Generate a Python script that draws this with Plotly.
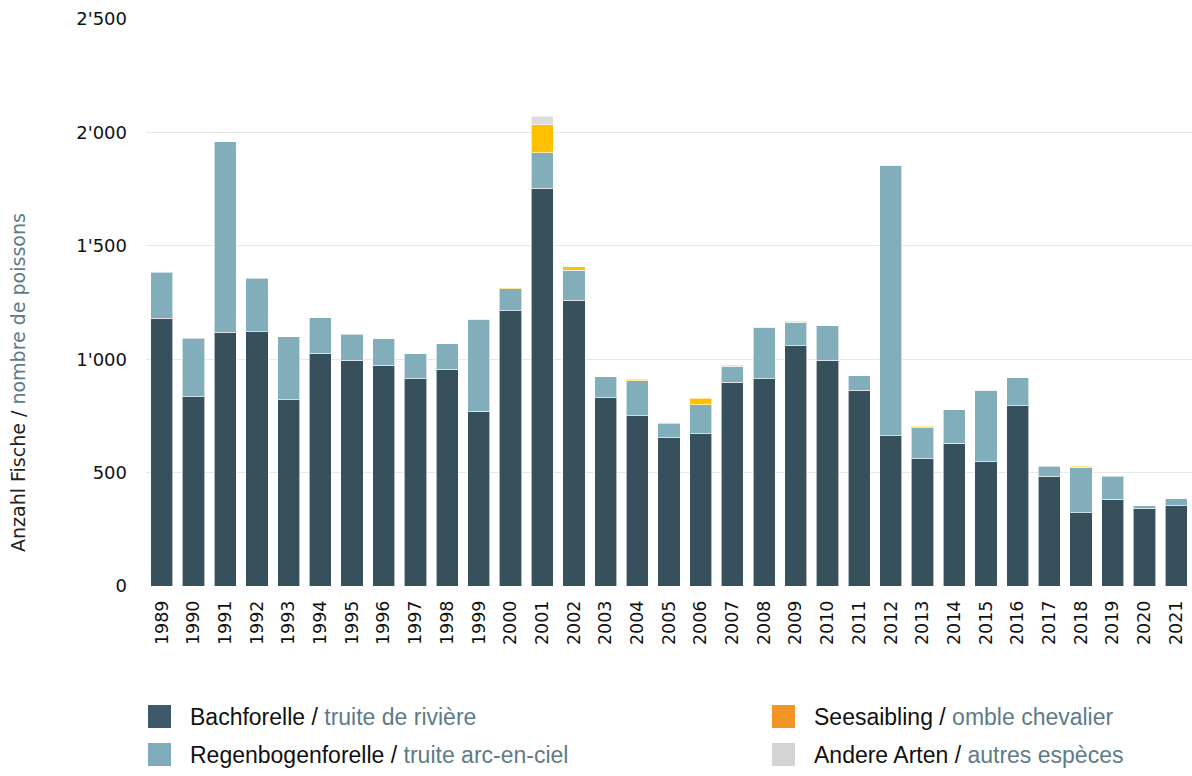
import plotly.graph_objects as go

years = [str(y) for y in range(1989, 2022)]
bachforelle = [1181, 835, 1118, 1121, 822, 1027, 995, 974, 913, 955, 770, 1214, 1753, 1261, 830, 751, 654,
               672, 899, 913, 1060, 995, 863, 663, 560, 629, 547, 795, 483, 322, 382, 342, 353]
regenbogen = [203, 257, 841, 236, 276, 155, 116, 116, 110, 113, 405, 97, 158, 132, 93, 154, 63,
              128, 71, 226, 102, 153, 64, 1189, 138, 148, 314, 124, 46, 201, 103, 11, 31]
seesaibling = [0, 0, 0, 0, 0, 0, 0, 0, 0, 0, 0, 5, 123, 15, 0, 6, 0,
               27, 4, 0, 5, 0, 0, 0, 7, 0, 0, 0, 0, 4, 0, 0, 0]
andere = [0, 0, 0, 0, 0, 0, 0, 0, 0, 0, 3, 0, 38, 0, 0, 0, 0,
          0, 0, 4, 0, 0, 0, 3, 0, 0, 3, 0, 0, 0, 0, 0, 0]

series = [
    ("Bachforelle", "truite de rivière", bachforelle, "#36515C", "#3D5A68"),
    ("Regenbogenforelle", "truite arc-en-ciel", regenbogen, "#82AEBB", "#7FABBB"),
    ("Seesaibling", "omble chevalier", seesaibling, "#FFC000", "#F39426"),
    ("Andere Arten", "autres espèces", andere, "#DCDCDC", "#D3D4D6"),
]

fig = go.Figure()
for de, fr, vals, col, _ in series:
    fig.add_trace(go.Bar(
        x=years, y=[v if v else None for v in vals], name=de,
        marker=dict(color=col, line=dict(color="rgba(255,255,255,0.6)", width=1)),
    ))

# pixel helpers for the hand-made legend (plot area: x 146..1192, y 19..586)
def px(x):
    return (x - 146) / 1046

def py(y):
    return (586 - y) / 567

grey = "#5E7B88"
legend_pos = [(148, 717), (148, 755), (772, 717), (772, 755)]
for (de, fr, vals, col, lcol), (lx, ly) in zip(series, legend_pos):
    fig.add_shape(type="rect", xref="paper", yref="paper",
                  x0=px(lx), x1=px(lx + 23), y0=py(ly - 12), y1=py(ly + 11),
                  fillcolor=lcol, line=dict(width=0))
    fig.add_annotation(xref="paper", yref="paper", x=px(lx + 40), y=py(ly),
                       xanchor="left", yanchor="middle", showarrow=False,
                       text=f"<span style='color:#111'>{de} /</span> <span style='color:{grey}'>{fr}</span>",
                       font=dict(family="Liberation Sans", size=23))

fig.add_annotation(xref="paper", yref="paper", x=px(18), y=py(383),
                   xanchor="center", yanchor="middle", showarrow=False, textangle=-90,
                   text=f"<span style='color:#222'>Anzahl Fische /</span> <span style='color:{grey}'>nombre de poissons</span>",
                   font=dict(family="DejaVu Sans", size=19))

fig.update_layout(
    barmode="stack", bargap=0.3,
    width=1192, height=776,
    margin=dict(l=146, r=0, t=19, b=190),
    plot_bgcolor="white", paper_bgcolor="white",
    showlegend=False,
    separators=".'",
    font=dict(family="DejaVu Sans", color="#111"),
)
fig.update_xaxes(tickangle=-90, tickfont=dict(size=17.5, color="#111"),
                 ticks="", ticklabelstandoff=10, showline=False, showgrid=False)
fig.update_yaxes(range=[0, 2500], tickvals=[0, 500, 1000, 1500, 2000, 2500], tickformat=",d",
                 tickfont=dict(size=18, color="#111"), ticklabelstandoff=18,
                 showgrid=True, gridcolor="#E8E8E8", gridwidth=1, zeroline=False, showline=False)

fig.write_html("out.html", config={"displayModeBar": False},
               post_script="document.body.style.margin='0';")
